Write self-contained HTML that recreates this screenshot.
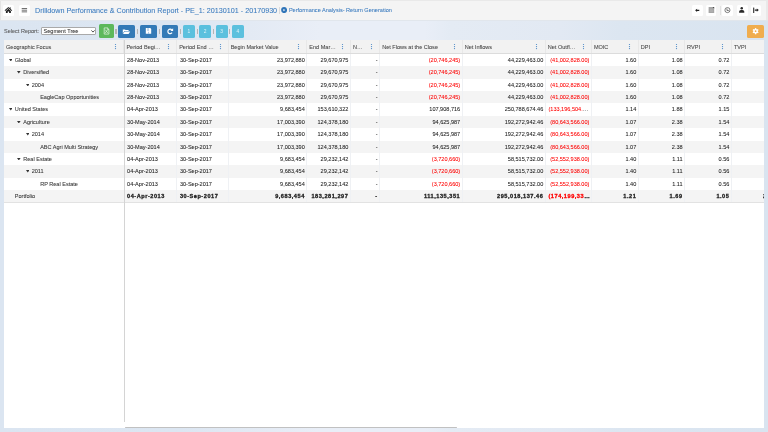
<!DOCTYPE html>
<html><head><meta charset="utf-8"><title>Drilldown Performance &amp; Contribution Report</title>
<style>
*{box-sizing:border-box;margin:0;padding:0}
html,body{width:768px;height:432px;overflow:hidden}
body{position:relative;font-family:"Liberation Sans",Arial,sans-serif;font-size:5.55px;color:#222;-webkit-text-stroke:0.06px currentColor;background:#dbe5f1}
.abs{position:absolute}
#root{position:absolute;left:0;top:0;width:768px;height:432px;will-change:transform}
#bg{position:absolute;left:0;top:0;width:768px;height:432px;overflow:hidden}
#topbar{position:absolute;left:0;top:0;width:768px;height:19.8px;background:#f4f4f4}
#tbl{position:absolute;left:0;top:0;width:0.9px;height:19.8px;background:#e4e4e4}
#tbt{position:absolute;left:0;top:0;width:768px;height:0.8px;background:#e9e9e9}
#tbr{position:absolute;left:766.3px;top:0;width:1.7px;height:19.8px;background:#e9e9e9}
.tb{position:absolute;top:5px;width:10.9px;height:10.6px;background:#fff;border-radius:1.5px}
.tb svg{position:absolute;left:0;top:0;width:100%;height:100%}
#title{position:absolute;left:35px;top:6.4px;font-size:7.19px;line-height:9px;color:#3a7bbf;white-space:nowrap}
#sub{position:absolute;left:288.9px;top:7.3px;font-size:5.57px;line-height:7px;color:#3a7bbf;white-space:nowrap}
#selLbl{position:absolute;left:4.1px;top:27.9px;font-size:5.5px;line-height:7px;color:#555;white-space:nowrap}
#sel{position:absolute;left:41.1px;top:27.2px;width:55.2px;height:7.8px;background:#fff;border:0.6px solid #a9a9a9;border-radius:1px}
#sel span{position:absolute;left:1.4px;top:-0.5px;font-size:5.57px;line-height:7.8px;color:#333}
.btn{position:absolute;top:24.9px;height:13px;border-radius:1.6px}
.btn svg{position:absolute;left:0;top:0;width:100%;height:100%}
.g{background:#5cb85c}
.p{background:#337ab7}
.i{background:#5bc0de;-webkit-text-stroke:0;color:rgba(255,255,255,.8);text-align:center;font-size:4.9px;line-height:13px}
.w{background:#f0ad4e}
.sep{position:absolute;top:29.2px;width:1.4px;height:4.4px;background:#b4b4b4}
#grid{position:absolute;left:4.2px;top:40.4px;width:759.9px;height:387.6px;overflow:hidden}
#gridbg{position:absolute;left:4.2px;top:40.4px;width:759.9px;height:387.6px;background:#fff}
.row{position:absolute;left:0;width:900px;height:12.4px}
.row.alt{background:#f4f4f4}
.c{position:absolute;top:0;height:100%;line-height:12.4px;white-space:nowrap;overflow:hidden;text-overflow:ellipsis;padding:0 1.6px 0 2.6px;border-right:0.6px solid #eff1f4}
.r{text-align:right}
.neg{color:#f00}
#hdr{position:absolute;left:0;top:0;width:900px;height:13.4px;background:#f2f2f2;border-bottom:1px solid #dcdcdc}
#hdr .c{line-height:12.4px;padding-top:0.7px;color:#444;padding-left:1.9px;padding-right:0;border-right:0.8px solid #e8e8e8;text-overflow:clip}
.kb{position:absolute;top:2.6px;fill:#4a88c7}
.tree{position:absolute;left:0;height:12.4px;line-height:12.4px;white-space:nowrap;color:#333}
.tri{display:inline-block;vertical-align:0.5px;margin-left:-6.1px;margin-right:2.5px;fill:#333}
.row.last{border-bottom:0.8px solid #e2e2e2;height:13.2px}
.b{font-weight:bold;letter-spacing:0.55px;-webkit-text-stroke:0.3px currentColor}
#divider{position:absolute;left:120.3px;top:0;width:0.9px;height:381.2px;background:#d4d4d4}
#hscroll{position:absolute;left:121px;top:386.4px;width:332.2px;height:1.4px;background:#c1c1c1;border-radius:1px}
</style></head>
<body>
<div id="root">
<div id="bg">
 <div class="abs" style="left:0;top:0;width:768px;height:432px;background:linear-gradient(90deg,#dbe5f1 0px,#dce6f2 180px,#e3eaf4 250px,#e9eef7 320px,#e9eef7 425px,#e4ebf4 450px,#e2e9f3 560px,#dce6f1 620px,#d9e4f0 768px)"></div>
</div>

<div class="abs" style="left:0;top:19.8px;width:768px;height:1.2px;background:#e1e6ec"></div>
<div id="topbar"><div id="tbl"></div><div id="tbt"></div><div id="tbr"></div>
 <div class="tb" style="left:3.1px"><svg viewBox="0 0 10.9 10.6"><path d="M5.4 1.9 L1.6 5.3 L2.3 5.9 L5.4 3.2 L8.5 5.9 L9.2 5.3 L7.6 3.9 V2.3 H6.8 V3.2 Z" fill="#222"/><path d="M2.9 5.9 L5.4 3.7 L7.9 5.9 V8.1 H6.1 V6.6 H4.7 V8.1 H2.9 Z" fill="#222"/></svg></div>
 <div class="tb" style="left:19px"><svg viewBox="0 0 10.9 10.6"><rect x="2.7" y="3" width="5.4" height="0.95" fill="#6a6a6a"/><rect x="2.7" y="4.7" width="5.4" height="0.95" fill="#6a6a6a"/><rect x="2.7" y="6.4" width="5.4" height="0.95" fill="#6a6a6a"/></svg></div>
 <div id="title">Drilldown Performance &amp; Contribution Report - PE_1: 20130101 - 20170930</div>
 <div class="abs" style="left:279.3px;top:7.1px;width:0.7px;height:6.6px;background:#dadada"></div>
 <svg class="abs" style="left:281px;top:7px" width="6.2" height="6.2" viewBox="0 0 6.2 6.2"><circle cx="3.1" cy="3.1" r="3" fill="#2f74b8"/><path d="M2.4 1.9 L4.3 3.1 L2.4 4.3Z" fill="#fff"/></svg>
 <div id="sub">Performance Analysis- Return Generation</div>

 <div class="tb" style="left:692.2px"><svg viewBox="0 0 10.9 10.6"><path d="M3.1 5.35 L5.1 3.8 V4.75 H7.3 V5.95 H5.1 V6.9 Z" fill="#222"/></svg></div>
 <div class="tb" style="left:705.6px"><svg viewBox="0 0 10.9 10.6"><path d="M2.6 2 H6.5 L8.2 3.7 V7.9 Q8.2 8.1 8 8.1 H2.8 Q2.6 8.1 2.6 7.9 Z" fill="#a6a6a6"/><path d="M6.4 2 L8.2 3.8 V2.4 Q8.2 2 7.8 2 Z" fill="#3a3a3a"/><path d="M3.9 4.4 H6 M3.9 5.4 H7.2 M3.9 6.4 H7.2" stroke="#bdbdbd" stroke-width="0.45"/></svg></div>
 <div class="abs" style="left:719.5px;top:5.5px;width:0.6px;height:9.5px;background:#e2e2e2"></div>
 <div class="tb" style="left:722.2px"><svg viewBox="0 0 10.9 10.6"><circle cx="5.45" cy="5.1" r="2.55" fill="none" stroke="#4a4a4a" stroke-width="0.7"/><path d="M5.0 3.5 V5.55 H6.8" fill="none" stroke="#4a4a4a" stroke-width="0.75"/></svg></div>
 <div class="tb" style="left:736.8px"><svg viewBox="0 0 10.9 10.6"><circle cx="4.75" cy="3.3" r="1.25" fill="#2a2a2a"/><path d="M2.1 7.8 V6.9 C2.1 5.8 3 5.1 4 5.1 H5.4 C6.4 5.1 7.3 5.8 7.3 6.9 V7.8 Z" fill="#2a2a2a"/></svg></div>
 <div class="tb" style="left:750.6px"><svg viewBox="0 0 10.9 10.6"><rect x="2.2" y="2.4" width="1.05" height="5.7" rx="0.4" fill="#222"/><path d="M3.8 4.5 H5.8 V3.5 L7.8 5.1 L5.8 6.7 V5.7 H3.8 Z" fill="#222"/></svg></div>
</div>

<div id="selLbl">Select Report:</div>
<div id="sel"><span>Segment Tree</span><svg class="abs" style="left:49.4px;top:2.3px" width="4" height="2.8" viewBox="0 0 4 2.8"><path d="M0.4 0.4 L2 2.1 L3.6 0.4" fill="none" stroke="#333" stroke-width="0.85"/></svg></div>

<div class="btn g" style="left:98.9px;top:24.4px;width:15px;height:13.7px"><svg viewBox="0 0 15 13.7"><path d="M5.2 3.9 H8.5 L9.9 5.3 V10.1 H5.2 Z" fill="none" stroke="#fff" stroke-width="0.6"/><path d="M8.4 3.9 V5.4 H9.9" fill="none" stroke="#fff" stroke-width="0.5"/><path d="M6.2 5.6 L8.8 9 M8.8 5.6 L6.2 9" stroke="#fff" stroke-width="0.55"/></svg></div>
<div class="sep" style="left:115.2px"></div>
<div class="btn p" style="left:118.4px;width:16.7px"><svg viewBox="0 0 16.7 13"><path d="M4.8 4.4 H7 L7.6 5.1 H10.6 V6 H6.4 L4.8 8.6 Z" fill="#fff"/><path d="M6.6 6.5 H12.2 L10.6 9 H5 Z" fill="#fff"/></svg></div>
<div class="sep" style="left:136.8px"></div>
<div class="btn p" style="left:139.9px;width:17px"><svg viewBox="0 0 17 13"><path d="M5.8 3.1 H10.3 L11.2 4 V8.8 H5.8 Z" fill="#fff"/><rect x="7.2" y="3.1" width="1.7" height="2.9" fill="#b9d2ea"/><rect x="8.2" y="6.8" width="0.7" height="2" fill="#8ab2da"/></svg></div>
<div class="sep" style="left:158.5px"></div>
<div class="btn p" style="left:161.8px;width:16.6px"><svg viewBox="0 0 16.6 13"><path d="M9.83 4.77 A2.3 2.3 0 1 0 10.08 7.72" fill="none" stroke="#fff" stroke-width="1.2"/><path d="M11.1 3.3 V6.1 H8.4 Z" fill="#fff"/></svg></div>
<div class="sep" style="left:180.1px"></div>
<div class="btn i" style="left:182.8px;width:12.2px">1</div>
<div class="sep" style="left:196.7px"></div>
<div class="btn i" style="left:199.1px;width:12.1px">2</div>
<div class="sep" style="left:212.8px"></div>
<div class="btn i" style="left:215.8px;width:11.8px">3</div>
<div class="sep" style="left:229px"></div>
<div class="btn i" style="left:231.9px;width:12px">4</div>

<div class="btn w" style="left:746.9px;top:24.7px;width:17.2px;height:13.1px"><svg viewBox="0 0 17.2 13.1"><g transform="translate(8.6 6.2)" fill="#fff"><circle r="2.2"/><rect x="-0.7" y="-3.1" width="1.4" height="6.2"/><rect x="-0.7" y="-3.1" width="1.4" height="6.2" transform="rotate(60)"/><rect x="-0.7" y="-3.1" width="1.4" height="6.2" transform="rotate(120)"/><circle r="0.9" fill="#f0ad4e"/></g></svg></div>

<div id="gridbg"></div>
<div id="grid">
 <div id="hdr"><!--HDR-->
<div class="c" style="left:0.0px;width:120.3px;padding-left:1.8px">Geographic Focus</div>
<svg class="kb" style="left:109.80px" width="3" height="7" viewBox="0 0 3 7"><circle cx="1.5" cy="1.5" r="0.62"/><circle cx="1.5" cy="3.55" r="0.62"/><circle cx="1.5" cy="5.6" r="0.62"/></svg>
<div class="c" style="left:120.3px;width:52.8px">Period Begi…</div>
<svg class="kb" style="left:162.80px" width="3" height="7" viewBox="0 0 3 7"><circle cx="1.5" cy="1.5" r="0.62"/><circle cx="1.5" cy="3.55" r="0.62"/><circle cx="1.5" cy="5.6" r="0.62"/></svg>
<div class="c" style="left:173.1px;width:51.5px">Period End …</div>
<svg class="kb" style="left:214.80px" width="3" height="7" viewBox="0 0 3 7"><circle cx="1.5" cy="1.5" r="0.62"/><circle cx="1.5" cy="3.55" r="0.62"/><circle cx="1.5" cy="5.6" r="0.62"/></svg>
<div class="c" style="left:224.6px;width:78.6px">Begin Market Value</div>
<svg class="kb" style="left:292.80px" width="3" height="7" viewBox="0 0 3 7"><circle cx="1.5" cy="1.5" r="0.62"/><circle cx="1.5" cy="3.55" r="0.62"/><circle cx="1.5" cy="5.6" r="0.62"/></svg>
<div class="c" style="left:303.2px;width:43.6px">End Mar…</div>
<svg class="kb" style="left:336.80px" width="3" height="7" viewBox="0 0 3 7"><circle cx="1.5" cy="1.5" r="0.62"/><circle cx="1.5" cy="3.55" r="0.62"/><circle cx="1.5" cy="5.6" r="0.62"/></svg>
<div class="c" style="left:346.8px;width:29.3px">N…</div>
<svg class="kb" style="left:365.80px" width="3" height="7" viewBox="0 0 3 7"><circle cx="1.5" cy="1.5" r="0.62"/><circle cx="1.5" cy="3.55" r="0.62"/><circle cx="1.5" cy="5.6" r="0.62"/></svg>
<div class="c" style="left:376.1px;width:82.5px">Net Flows at the Close</div>
<svg class="kb" style="left:448.80px" width="3" height="7" viewBox="0 0 3 7"><circle cx="1.5" cy="1.5" r="0.62"/><circle cx="1.5" cy="3.55" r="0.62"/><circle cx="1.5" cy="5.6" r="0.62"/></svg>
<div class="c" style="left:458.6px;width:83.1px">Net Inflows</div>
<svg class="kb" style="left:530.80px" width="3" height="7" viewBox="0 0 3 7"><circle cx="1.5" cy="1.5" r="0.62"/><circle cx="1.5" cy="3.55" r="0.62"/><circle cx="1.5" cy="5.6" r="0.62"/></svg>
<div class="c" style="left:541.7px;width:46.1px">Net Outfl…</div>
<svg class="kb" style="left:577.80px" width="3" height="7" viewBox="0 0 3 7"><circle cx="1.5" cy="1.5" r="0.62"/><circle cx="1.5" cy="3.55" r="0.62"/><circle cx="1.5" cy="5.6" r="0.62"/></svg>
<div class="c" style="left:587.8px;width:46.9px">MOIC</div>
<svg class="kb" style="left:623.80px" width="3" height="7" viewBox="0 0 3 7"><circle cx="1.5" cy="1.5" r="0.62"/><circle cx="1.5" cy="3.55" r="0.62"/><circle cx="1.5" cy="5.6" r="0.62"/></svg>
<div class="c" style="left:634.7px;width:46.3px">DPI</div>
<svg class="kb" style="left:670.80px" width="3" height="7" viewBox="0 0 3 7"><circle cx="1.5" cy="1.5" r="0.62"/><circle cx="1.5" cy="3.55" r="0.62"/><circle cx="1.5" cy="5.6" r="0.62"/></svg>
<div class="c" style="left:681.0px;width:46.8px">RVPI</div>
<svg class="kb" style="left:716.80px" width="3" height="7" viewBox="0 0 3 7"><circle cx="1.5" cy="1.5" r="0.62"/><circle cx="1.5" cy="3.55" r="0.62"/><circle cx="1.5" cy="5.6" r="0.62"/></svg>
<div class="c" style="left:727.8px;width:68.0px">TVPI</div>
<!--/HDR--></div>
 <div id="rows"><!--ROWS-->
<div class="row" style="top:13.40px"><div class="tree" style="left:10.60px"><svg class="tri" width="3.6" height="2.5" viewBox="0 0 3.6 2.5"><path d="M0 0H3.6L1.8 2.5Z"/></svg>Global</div><div class="c" style="left:120.3px;width:52.8px">28-Nov-2013</div><div class="c" style="left:173.1px;width:51.5px">30-Sep-2017</div><div class="c r" style="left:224.6px;width:78.6px">23,972,880</div><div class="c r" style="left:303.2px;width:43.6px">29,670,975</div><div class="c r" style="left:346.8px;width:29.3px">-</div><div class="c r" style="left:376.1px;width:82.5px"><span class="neg">(20,746,245)</span></div><div class="c r" style="left:458.6px;width:83.1px">44,229,463.00</div><div class="c r" style="left:541.7px;width:46.1px"><span class="neg">(41,002,828.00)</span></div><div class="c r" style="left:587.8px;width:46.9px">1.60</div><div class="c r" style="left:634.7px;width:46.3px">1.08</div><div class="c r" style="left:681.0px;width:46.8px">0.72</div><div class="c" style="left:727.8px;width:68.0px"></div></div>
<div class="row alt" style="top:25.80px"><div class="tree" style="left:19.05px"><svg class="tri" width="3.6" height="2.5" viewBox="0 0 3.6 2.5"><path d="M0 0H3.6L1.8 2.5Z"/></svg>Diversified</div><div class="c" style="left:120.3px;width:52.8px">28-Nov-2013</div><div class="c" style="left:173.1px;width:51.5px">30-Sep-2017</div><div class="c r" style="left:224.6px;width:78.6px">23,972,880</div><div class="c r" style="left:303.2px;width:43.6px">29,670,975</div><div class="c r" style="left:346.8px;width:29.3px">-</div><div class="c r" style="left:376.1px;width:82.5px"><span class="neg">(20,746,245)</span></div><div class="c r" style="left:458.6px;width:83.1px">44,229,463.00</div><div class="c r" style="left:541.7px;width:46.1px"><span class="neg">(41,002,828.00)</span></div><div class="c r" style="left:587.8px;width:46.9px">1.60</div><div class="c r" style="left:634.7px;width:46.3px">1.08</div><div class="c r" style="left:681.0px;width:46.8px">0.72</div><div class="c" style="left:727.8px;width:68.0px"></div></div>
<div class="row" style="top:38.20px"><div class="tree" style="left:27.50px"><svg class="tri" width="3.6" height="2.5" viewBox="0 0 3.6 2.5"><path d="M0 0H3.6L1.8 2.5Z"/></svg>2004</div><div class="c" style="left:120.3px;width:52.8px">28-Nov-2013</div><div class="c" style="left:173.1px;width:51.5px">30-Sep-2017</div><div class="c r" style="left:224.6px;width:78.6px">23,972,880</div><div class="c r" style="left:303.2px;width:43.6px">29,670,975</div><div class="c r" style="left:346.8px;width:29.3px">-</div><div class="c r" style="left:376.1px;width:82.5px"><span class="neg">(20,746,245)</span></div><div class="c r" style="left:458.6px;width:83.1px">44,229,463.00</div><div class="c r" style="left:541.7px;width:46.1px"><span class="neg">(41,002,828.00)</span></div><div class="c r" style="left:587.8px;width:46.9px">1.60</div><div class="c r" style="left:634.7px;width:46.3px">1.08</div><div class="c r" style="left:681.0px;width:46.8px">0.72</div><div class="c" style="left:727.8px;width:68.0px"></div></div>
<div class="row alt" style="top:50.60px"><div class="tree" style="left:35.95px">EagleCap Opportunities</div><div class="c" style="left:120.3px;width:52.8px">28-Nov-2013</div><div class="c" style="left:173.1px;width:51.5px">30-Sep-2017</div><div class="c r" style="left:224.6px;width:78.6px">23,972,880</div><div class="c r" style="left:303.2px;width:43.6px">29,670,975</div><div class="c r" style="left:346.8px;width:29.3px">-</div><div class="c r" style="left:376.1px;width:82.5px"><span class="neg">(20,746,245)</span></div><div class="c r" style="left:458.6px;width:83.1px">44,229,463.00</div><div class="c r" style="left:541.7px;width:46.1px"><span class="neg">(41,002,828.00)</span></div><div class="c r" style="left:587.8px;width:46.9px">1.60</div><div class="c r" style="left:634.7px;width:46.3px">1.08</div><div class="c r" style="left:681.0px;width:46.8px">0.72</div><div class="c" style="left:727.8px;width:68.0px"></div></div>
<div class="row" style="top:63.00px"><div class="tree" style="left:10.60px"><svg class="tri" width="3.6" height="2.5" viewBox="0 0 3.6 2.5"><path d="M0 0H3.6L1.8 2.5Z"/></svg>United States</div><div class="c" style="left:120.3px;width:52.8px">04-Apr-2013</div><div class="c" style="left:173.1px;width:51.5px">30-Sep-2017</div><div class="c r" style="left:224.6px;width:78.6px">9,683,454</div><div class="c r" style="left:303.2px;width:43.6px">153,610,322</div><div class="c r" style="left:346.8px;width:29.3px">-</div><div class="c r" style="left:376.1px;width:82.5px">107,908,716</div><div class="c r" style="left:458.6px;width:83.1px">250,788,674.46</div><div class="c r" style="left:541.7px;width:46.1px"><span class="neg">(133,196,504.00)</span></div><div class="c r" style="left:587.8px;width:46.9px">1.14</div><div class="c r" style="left:634.7px;width:46.3px">1.88</div><div class="c r" style="left:681.0px;width:46.8px">1.15</div><div class="c" style="left:727.8px;width:68.0px"></div></div>
<div class="row alt" style="top:75.40px"><div class="tree" style="left:19.05px"><svg class="tri" width="3.6" height="2.5" viewBox="0 0 3.6 2.5"><path d="M0 0H3.6L1.8 2.5Z"/></svg>Agriculture</div><div class="c" style="left:120.3px;width:52.8px">30-May-2014</div><div class="c" style="left:173.1px;width:51.5px">30-Sep-2017</div><div class="c r" style="left:224.6px;width:78.6px">17,003,390</div><div class="c r" style="left:303.2px;width:43.6px">124,378,180</div><div class="c r" style="left:346.8px;width:29.3px">-</div><div class="c r" style="left:376.1px;width:82.5px">94,625,987</div><div class="c r" style="left:458.6px;width:83.1px">192,272,942.46</div><div class="c r" style="left:541.7px;width:46.1px"><span class="neg">(80,643,566.00)</span></div><div class="c r" style="left:587.8px;width:46.9px">1.07</div><div class="c r" style="left:634.7px;width:46.3px">2.38</div><div class="c r" style="left:681.0px;width:46.8px">1.54</div><div class="c" style="left:727.8px;width:68.0px"></div></div>
<div class="row" style="top:87.80px"><div class="tree" style="left:27.50px"><svg class="tri" width="3.6" height="2.5" viewBox="0 0 3.6 2.5"><path d="M0 0H3.6L1.8 2.5Z"/></svg>2014</div><div class="c" style="left:120.3px;width:52.8px">30-May-2014</div><div class="c" style="left:173.1px;width:51.5px">30-Sep-2017</div><div class="c r" style="left:224.6px;width:78.6px">17,003,390</div><div class="c r" style="left:303.2px;width:43.6px">124,378,180</div><div class="c r" style="left:346.8px;width:29.3px">-</div><div class="c r" style="left:376.1px;width:82.5px">94,625,987</div><div class="c r" style="left:458.6px;width:83.1px">192,272,942.46</div><div class="c r" style="left:541.7px;width:46.1px"><span class="neg">(80,643,566.00)</span></div><div class="c r" style="left:587.8px;width:46.9px">1.07</div><div class="c r" style="left:634.7px;width:46.3px">2.38</div><div class="c r" style="left:681.0px;width:46.8px">1.54</div><div class="c" style="left:727.8px;width:68.0px"></div></div>
<div class="row alt" style="top:100.20px"><div class="tree" style="left:35.95px">ABC Agri Multi Strategy</div><div class="c" style="left:120.3px;width:52.8px">30-May-2014</div><div class="c" style="left:173.1px;width:51.5px">30-Sep-2017</div><div class="c r" style="left:224.6px;width:78.6px">17,003,390</div><div class="c r" style="left:303.2px;width:43.6px">124,378,180</div><div class="c r" style="left:346.8px;width:29.3px">-</div><div class="c r" style="left:376.1px;width:82.5px">94,625,987</div><div class="c r" style="left:458.6px;width:83.1px">192,272,942.46</div><div class="c r" style="left:541.7px;width:46.1px"><span class="neg">(80,643,566.00)</span></div><div class="c r" style="left:587.8px;width:46.9px">1.07</div><div class="c r" style="left:634.7px;width:46.3px">2.38</div><div class="c r" style="left:681.0px;width:46.8px">1.54</div><div class="c" style="left:727.8px;width:68.0px"></div></div>
<div class="row" style="top:112.60px"><div class="tree" style="left:19.05px"><svg class="tri" width="3.6" height="2.5" viewBox="0 0 3.6 2.5"><path d="M0 0H3.6L1.8 2.5Z"/></svg>Real Estate</div><div class="c" style="left:120.3px;width:52.8px">04-Apr-2013</div><div class="c" style="left:173.1px;width:51.5px">30-Sep-2017</div><div class="c r" style="left:224.6px;width:78.6px">9,683,454</div><div class="c r" style="left:303.2px;width:43.6px">29,232,142</div><div class="c r" style="left:346.8px;width:29.3px">-</div><div class="c r" style="left:376.1px;width:82.5px"><span class="neg">(3,720,660)</span></div><div class="c r" style="left:458.6px;width:83.1px">58,515,732.00</div><div class="c r" style="left:541.7px;width:46.1px"><span class="neg">(52,552,938.00)</span></div><div class="c r" style="left:587.8px;width:46.9px">1.40</div><div class="c r" style="left:634.7px;width:46.3px">1.11</div><div class="c r" style="left:681.0px;width:46.8px">0.56</div><div class="c" style="left:727.8px;width:68.0px"></div></div>
<div class="row alt" style="top:125.00px"><div class="tree" style="left:27.50px"><svg class="tri" width="3.6" height="2.5" viewBox="0 0 3.6 2.5"><path d="M0 0H3.6L1.8 2.5Z"/></svg>2011</div><div class="c" style="left:120.3px;width:52.8px">04-Apr-2013</div><div class="c" style="left:173.1px;width:51.5px">30-Sep-2017</div><div class="c r" style="left:224.6px;width:78.6px">9,683,454</div><div class="c r" style="left:303.2px;width:43.6px">29,232,142</div><div class="c r" style="left:346.8px;width:29.3px">-</div><div class="c r" style="left:376.1px;width:82.5px"><span class="neg">(3,720,660)</span></div><div class="c r" style="left:458.6px;width:83.1px">58,515,732.00</div><div class="c r" style="left:541.7px;width:46.1px"><span class="neg">(52,552,938.00)</span></div><div class="c r" style="left:587.8px;width:46.9px">1.40</div><div class="c r" style="left:634.7px;width:46.3px">1.11</div><div class="c r" style="left:681.0px;width:46.8px">0.56</div><div class="c" style="left:727.8px;width:68.0px"></div></div>
<div class="row" style="top:137.40px"><div class="tree" style="left:35.95px">RP Real Estate</div><div class="c" style="left:120.3px;width:52.8px">04-Apr-2013</div><div class="c" style="left:173.1px;width:51.5px">30-Sep-2017</div><div class="c r" style="left:224.6px;width:78.6px">9,683,454</div><div class="c r" style="left:303.2px;width:43.6px">29,232,142</div><div class="c r" style="left:346.8px;width:29.3px">-</div><div class="c r" style="left:376.1px;width:82.5px"><span class="neg">(3,720,660)</span></div><div class="c r" style="left:458.6px;width:83.1px">58,515,732.00</div><div class="c r" style="left:541.7px;width:46.1px"><span class="neg">(52,552,938.00)</span></div><div class="c r" style="left:587.8px;width:46.9px">1.40</div><div class="c r" style="left:634.7px;width:46.3px">1.11</div><div class="c r" style="left:681.0px;width:46.8px">0.56</div><div class="c" style="left:727.8px;width:68.0px"></div></div>
<div class="row alt last" style="top:149.80px"><div class="tree" style="left:10.60px">Portfolio</div><div class="c b" style="left:120.3px;width:52.8px">04-Apr-2013</div><div class="c b" style="left:173.1px;width:51.5px">30-Sep-2017</div><div class="c r b" style="left:224.6px;width:78.6px">9,683,454</div><div class="c r b" style="left:303.2px;width:43.6px">183,281,297</div><div class="c r b" style="left:346.8px;width:29.3px">-</div><div class="c r b" style="left:376.1px;width:82.5px">111,135,351</div><div class="c r b" style="left:458.6px;width:83.1px">295,018,137.46</div><div class="c r b" style="left:541.7px;width:46.1px;padding-right:0.2px"><span class="neg">(174,199,336.00)</span></div><div class="c r b" style="left:587.8px;width:46.9px">1.21</div><div class="c r b" style="left:634.7px;width:46.3px">1.69</div><div class="c r b" style="left:681.0px;width:46.8px">1.05</div><div class="c b" style="left:727.8px;width:68.0px;padding-left:30.9px">2.74</div></div>
<!--/ROWS--></div>
 <div id="divider"></div>
 <div id="hscroll"></div>
</div>
</div>
</body></html>
